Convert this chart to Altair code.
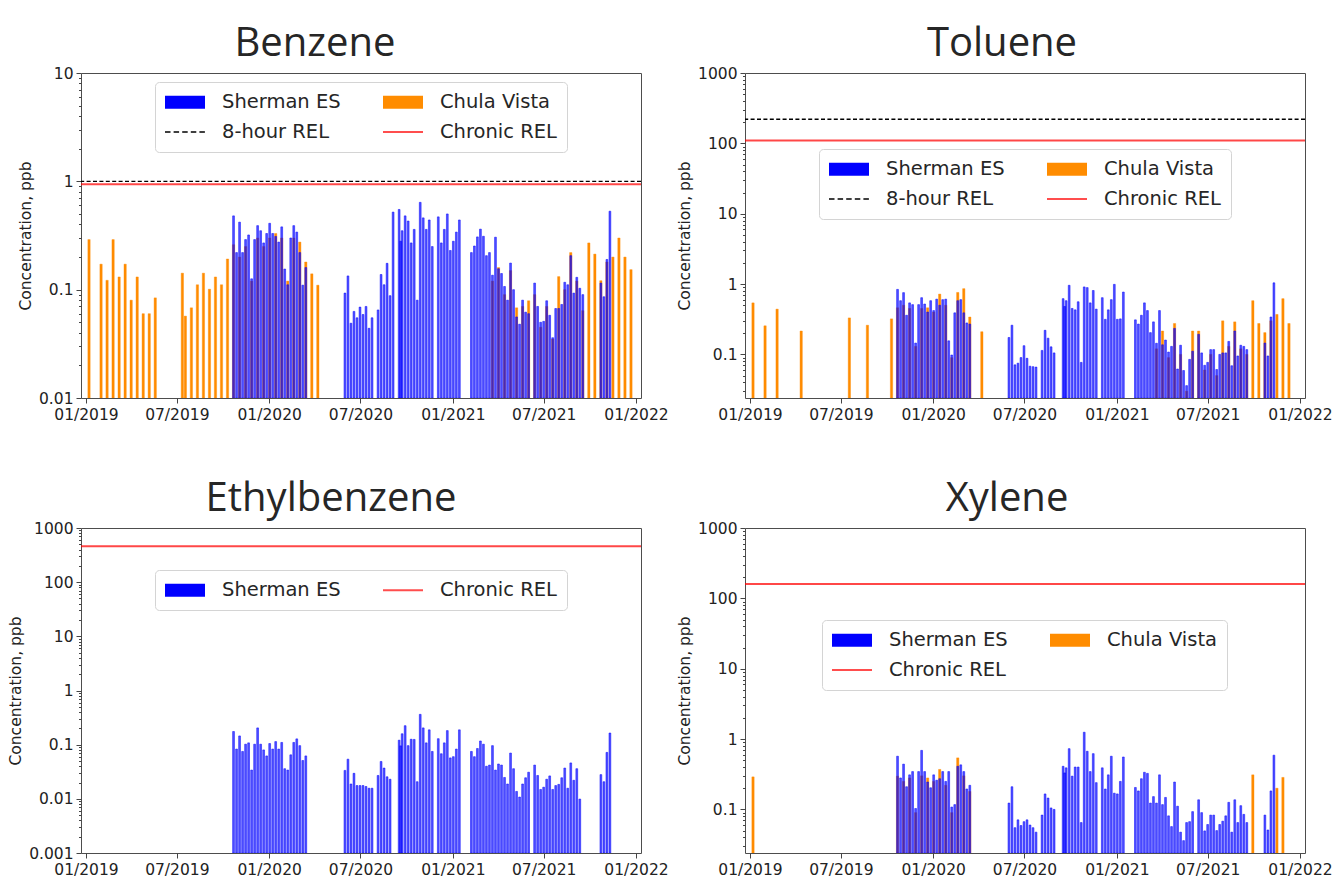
import altair as alt
import pandas as pd

# ---------------- sampling days (days after 2019-01-01) ----------------
BASE_DATE = "2019-01-01"
SHERMAN_DAYS = [
    294, 300, 306, 312, 318, 324, 330, 336, 342, 348, 354, 360, 366, 372, 378, 384, 390, 396, 402, 408, 414, 420, 426, 432, 438,
    516, 522, 528, 534, 540, 546, 552, 558, 564, 570,
    582, 588, 594, 600, 606, 612,
    624, 627, 630, 636, 642, 648, 654, 660, 666, 672, 678, 684, 690,
    702, 708, 714, 720, 726, 732, 738, 744,
    768, 774, 780, 786, 792, 798, 804, 810, 816, 822, 828, 834, 840, 846, 852, 858, 864, 870, 876, 882,
    894, 900, 906, 912, 918, 924, 930, 936, 942, 948, 954, 960, 966, 972, 978, 984, 990,
    1026, 1032, 1038, 1044,
]
CV_DAYS = [
    6, 18, 30, 42, 54, 66, 78, 90, 102, 114, 126, 138,
    192, 198, 210, 222, 234, 246, 258, 270, 282,
    294, 306, 318, 330, 342, 354, 366, 378, 390, 402, 414, 426, 438, 450, 462,
    810, 822, 834, 846, 858, 870, 882, 894, 906, 918, 930, 942, 954, 966, 978, 990,
    1002, 1014, 1026, 1038, 1050, 1062, 1074, 1086,
]

# ---------------- concentrations, ppb ----------------
BENZ_SH = [
    0.48, 0.22, 0.42, 0.22, 0.29, 0.32, 0.126, 0.29, 0.39, 0.35, 0.27, 0.33, 0.41, 0.33, 0.31, 0.275, 0.38, 0.155, 0.111, 0.30, 0.39, 0.34, 0.22, 0.11, 0.16,
    0.093, 0.134, 0.049, 0.063, 0.055, 0.069, 0.059, 0.070, 0.044, 0.055,
    0.065, 0.138, 0.111, 0.175, 0.088, 0.52,
    0.55, 0.28, 0.35, 0.48, 0.43, 0.27, 0.36, 0.08, 0.64, 0.46, 0.36, 0.44, 0.25,
    0.47, 0.27, 0.36, 0.50, 0.23, 0.28, 0.34, 0.44,
    0.22, 0.253, 0.307, 0.362, 0.311, 0.206, 0.22, 0.136, 0.305, 0.156, 0.141, 0.107, 0.080, 0.176, 0.10, 0.056, 0.048, 0.080, 0.062, 0.060,
    0.115, 0.070, 0.050, 0.051, 0.079, 0.058, 0.036, 0.067, 0.067, 0.073, 0.117, 0.111, 0.206, 0.093, 0.13, 0.103, 0.090,
    0.115, 0.086, 0.19, 0.53,
]
BENZ_CV = [
    0.29, None, 0.172, 0.122, 0.29, 0.131, 0.172, 0.08, 0.131, 0.06, 0.06, 0.084,
    0.142, 0.057, 0.068, 0.111, 0.142, 0.101, 0.131, 0.111, 0.192,
    0.26, 0.20, 0.25, 0.12, 0.30, 0.25, 0.30, 0.33, 0.30, 0.12, 0.30, 0.275, 0.18, 0.14, 0.11,
    0.12, 0.16, 0.09, 0.15, 0.068, 0.07, 0.079, 0.09, 0.045, 0.07, 0.035, 0.132, 0.10, 0.22, 0.12, 0.064,
    0.27, 0.213, 0.121, 0.18, 0.20, 0.30, 0.20, 0.153,
]
TOL_SH = [
    0.84, 0.58, 0.755, 0.36, 0.54, 0.51, 0.145, 0.51, 0.64, 0.52, 0.40, 0.58, 0.42, 0.61, 0.50, 0.60, 0.61, 0.156, 0.098, 0.39, 0.58, 0.60, 0.39, 0.28, 0.27,
    0.174, 0.26, 0.071, 0.075, 0.09, 0.133, 0.088, 0.068, 0.067, 0.066,
    0.114, 0.22, 0.17, 0.128, 0.105, None,
    0.62, 0.48, 0.58, 0.96, 0.45, 0.43, 0.56, 0.077, 0.91, 0.89, 0.54, 0.81, 0.44,
    0.64, 0.315, 0.43, 0.60, 0.99, 0.315, 0.32, 0.77,
    0.31, 0.27, 0.36, 0.54, 0.42, 0.204, 0.29, 0.144, 0.42, 0.137, 0.16, 0.108, 0.13, 0.234, 0.062, 0.135, 0.059, 0.036, 0.085, 0.111,
    0.193, 0.105, 0.070, 0.077, 0.117, 0.117, 0.061, 0.10, 0.105, 0.105, 0.153, 0.069, 0.215, 0.095, 0.135, 0.13, 0.117,
    0.145, 0.095, 0.34, 1.04,
]
TOL_CV = [
    0.54, None, 0.255, None, 0.44, None, None, None, 0.215, None, None, None,
    None, 0.33, None, None, 0.26, None, None, None, 0.32,
    0.46, 0.5, 0.45, 0.13, 0.45, 0.46, 0.4, 0.72, 0.5, 0.09, 0.76, 0.86, 0.34, None, 0.21,
    0.12, 0.215, 0.09, 0.275, 0.1, 0.03, 0.215, 0.215, 0.06, 0.1, 0.05, 0.30, 0.13, 0.29, 0.12, 0.1,
    0.58, 0.275, 0.204, 0.3, 0.37, 0.62, 0.275, None,
]
ETH_SH = [
    0.175, 0.083, 0.145, 0.075, 0.102, 0.108, 0.034, 0.102, 0.204, 0.102, 0.08, 0.062, 0.105, 0.083, 0.114, 0.083, 0.11, 0.036, 0.034, 0.065, 0.11, 0.128, 0.096, 0.051, 0.062,
    0.0335, 0.054, 0.0188, 0.0296, 0.0176, 0.0176, 0.0176, 0.0169, 0.0157, 0.0157,
    0.027, 0.049, 0.037, 0.0255, 0.023, None,
    0.121, 0.095, 0.159, 0.224, 0.096, 0.126, 0.125, 0.0207, 0.363, 0.204, 0.108, 0.188, 0.075,
    0.129, 0.068, 0.108, 0.182, 0.057, 0.060, 0.083, 0.188,
    0.075, 0.060, 0.085, 0.117, 0.102, 0.040, 0.042, 0.096, 0.034, 0.044, 0.042, 0.0248, 0.0188, 0.070, 0.036, 0.0137, 0.0108, 0.0188, 0.0245, 0.031,
    0.042, 0.027, 0.0149, 0.0164, 0.023, 0.0265, 0.0149, 0.0176, 0.0185, 0.0245, 0.037, 0.0157, 0.046, 0.022, 0.036, 0.0099, None,
    0.028, 0.0207, 0.072, 0.164,
]
XYL_SH = [
    0.57, 0.28, 0.44, 0.21, 0.31, 0.345, 0.103, 0.345, 0.69, 0.345, 0.245, 0.203, 0.31, 0.26, 0.273, 0.345, 0.25, 0.345, 0.108, 0.117, 0.41, 0.43, 0.345, 0.195, 0.22,
    0.123, 0.21, 0.055, 0.071, 0.059, 0.067, 0.071, 0.060, 0.055, 0.0475,
    0.083, 0.166, 0.145, 0.105, 0.10, None,
    0.41, 0.33, 0.39, 0.73, 0.297, 0.40, 0.40, 0.065, 1.25, 0.67, 0.345, 0.62, 0.24,
    0.39, 0.195, 0.31, 0.57, 0.17, 0.166, 0.25, 0.556,
    0.205, 0.183, 0.273, 0.337, 0.325, 0.123, 0.152, 0.123, 0.31, 0.117, 0.148, 0.081, 0.057, 0.245, 0.111, 0.0475, 0.036, 0.065, 0.067, 0.093,
    0.137, 0.09, 0.0495, 0.061, 0.083, 0.083, 0.050, 0.061, 0.068, 0.081, 0.126, 0.0475, 0.137, 0.065, 0.113, 0.085, 0.065,
    0.083, 0.051, 0.183, 0.59,
]
XYL_CV = [
    0.29, None, None, None, None, None, None, None, None, None, None, None,
    None, None, None, None, None, None, None, None, None,
    0.297, 0.25, 0.28, 0.09, 0.30, 0.28, 0.25, 0.37, 0.22, 0.09, 0.54, 0.3, 0.18, None, None,
    None, None, None, None, None, None, None, None, None, None, None, None, None, None, None, None,
    0.31, None, None, None, 0.20, 0.285, None, None,
]

# reference exposure levels, ppb
REL_8HR = {"Benzene": 1.0, "Toluene": 220}
REL_CHRONIC = {"Benzene": 0.94, "Toluene": 110, "Ethylbenzene": 460, "Xylene": 160}

BLUE = "#0000ff"
ORANGE = "#ff8c00"
RED = "#ff0000"
FONT = "DejaVu Sans"

LEG_COLORS = {"Sherman ES": BLUE, "Chula Vista": ORANGE, "8-hour REL": "#000000", "Chronic REL": "#ff4d4d"}
LEG_SHAPES = {
    "Sherman ES": "M-1,-0.65H3V0.65H-1Z",
    "Chula Vista": "M-1,-0.65H3V0.65H-1Z",
    "Chronic REL": "M-1,-0.1H3V0.1H-1Z",
    "8-hour REL": ("M-1,-0.08H-0.45V0.08H-1Z M-0.14,-0.08H0.41V0.08H-0.14Z "
                   "M0.72,-0.08H1.27V0.08H0.72Z M1.58,-0.08H2.13V0.08H1.58Z M2.44,-0.08H2.99V0.08H2.44Z"),
}

W, H = 560, 325


def to_dates(days):
    base = pd.Timestamp(BASE_DATE)
    return [(base + pd.Timedelta(days=int(d))).strftime("%Y-%m-%dT00:00:00") for d in days]


def frame(days, vals, floor):
    df = pd.DataFrame({"date": to_dates(days), "value": vals})
    df = df.dropna()
    df["base"] = floor  # bars start at the bottom of the log axis
    return df


X_SCALE = alt.Scale(domain=[alt.DateTime(year=2019, month=1, date=1),
                            alt.DateTime(year=2022, month=1, date=1)], nice=False)
X_TICKS = [alt.DateTime(year=y, month=m, date=1)
           for y, m in [(2019, 1), (2019, 7), (2020, 1), (2020, 7), (2021, 1), (2021, 7), (2022, 1)]]
X_AXIS = alt.Axis(values=X_TICKS, format="%m/%Y", title=None, labelFontSize=15.5, tickSize=5,
                  labelPadding=4, grid=False, domain=False, labelOverlap=False, labelFont=FONT)


def panel(name, sh, cv, ymin, ymax, majors, entries, lx, ly, tdx):
    yscale = alt.Scale(type="log", domain=[ymin, ymax], nice=False)
    minors = []
    d = 1e-4
    while d < 1e4:
        for k in range(2, 10):
            v = d * k
            if ymin < v < ymax:
                minors.append(v)
        d *= 10
    y_major = alt.Axis(values=majors, format="~g", title="Concentration, ppb", titleFontSize=15.5,
                       titleFontWeight="normal", titleFont=FONT, labelFont=FONT, labelFontSize=15.5,
                       tickSize=5, labelPadding=3, titlePadding=5, grid=False, domain=False, orient="left")
    y_minor = alt.Axis(values=minors, labels=False, tickSize=2.5, grid=False, domain=False,
                       title=None, orient="left")

    layers = []
    if cv is not None:
        layers.append(
            alt.Chart(frame(CV_DAYS, cv, ymin)).mark_bar(orient="vertical", size=2.3, color=ORANGE,
                                                         stroke=ORANGE, strokeWidth=0.4, clip=True)
            .encode(x=alt.X("date:T", scale=X_SCALE, axis=X_AXIS),
                    y=alt.Y("value:Q", scale=yscale, axis=None),
                    y2=alt.Y2("base:Q"))
        )
    layers.append(
        alt.Chart(frame(SHERMAN_DAYS, sh, ymin)).mark_bar(orient="vertical", size=1.8, fill=BLUE,
                                                          fillOpacity=0.68, stroke=BLUE, strokeWidth=0.5,
                                                          clip=True)
        .encode(x=alt.X("date:T", scale=X_SCALE, axis=X_AXIS),
                y=alt.Y("value:Q", scale=yscale, axis=y_major),
                y2=alt.Y2("base:Q"))
    )
    if name in REL_8HR:
        layers.append(
            alt.Chart(pd.DataFrame({"value": [REL_8HR[name]]})).mark_rule(
                color="#000000", strokeWidth=1.3, strokeDash=[4, 2.4])
            .encode(y=alt.Y("value:Q", scale=yscale, axis=None))
        )
    layers.append(
        alt.Chart(pd.DataFrame({"value": [REL_CHRONIC[name]]})).mark_rule(
            color=RED, strokeWidth=2, opacity=0.72)
        .encode(y=alt.Y("value:Q", scale=yscale, axis=None))
    )
    leg = alt.Legend(orient="none", legendX=lx, legendY=ly, columns=2, direction="horizontal", title=None,
                     labelFont=FONT, labelFontSize=19.5, labelColor="#262626",
                     symbolSize=400, symbolStrokeWidth=0, symbolOpacity=1, labelOffset=37,
                     columnPadding=42, rowPadding=10, padding=10, fillColor="white",
                     strokeColor="#d4d4d4", cornerRadius=4, labelLimit=300)
    leg_df = pd.DataFrame({"date": to_dates([0]) * len(entries),
                           "value": [ymin * 1e-4] * len(entries),
                           "series": entries})
    layers.append(
        alt.Chart(leg_df).mark_point(filled=True, opacity=1, clip=True)
        .encode(x=alt.X("date:T", scale=X_SCALE, axis=X_AXIS),
                y=alt.Y("value:Q", scale=yscale, axis=y_minor),
                color=alt.Color("series:N", scale=alt.Scale(domain=entries,
                                range=[LEG_COLORS[e] for e in entries]), legend=leg),
                shape=alt.Shape("series:N", scale=alt.Scale(domain=entries,
                                range=[LEG_SHAPES[e] for e in entries]), legend=leg))
    )
    return alt.layer(*layers).resolve_axis(y="independent").properties(
        width=W, height=H,
        title=alt.TitleParams(text=name, font="Open Sans", fontSize=40, fontWeight="normal",
                              color="#262626", anchor="middle", frame="group", dx=tdx, offset=2),
    )


p1 = panel("Benzene", BENZ_SH, BENZ_CV, 0.01, 10, [0.01, 0.1, 1, 10],
           ["Sherman ES", "Chula Vista", "8-hour REL", "Chronic REL"], 74, 9, -46)
p2 = panel("Toluene", TOL_SH, TOL_CV, 0.024, 1000, [0.1, 1, 10, 100, 1000],
           ["Sherman ES", "Chula Vista", "8-hour REL", "Chronic REL"], 74, 76, -23)
p3 = panel("Ethylbenzene", ETH_SH, None, 0.001, 1000, [0.001, 0.01, 0.1, 1, 10, 100, 1000],
           ["Sherman ES", "Chronic REL"], 74, 42, -30)
p4 = panel("Xylene", XYL_SH, XYL_CV, 0.024, 1000, [0.1, 1, 10, 100, 1000],
           ["Sherman ES", "Chula Vista", "Chronic REL"], 77, 92, -18)

chart = alt.concat(p1, p2, p3, p4, columns=2, spacing={"row": 130, "column": 104}, bounds="flush") \
    .resolve_scale(x="independent", y="independent", color="independent", shape="independent") \
    .resolve_legend(color="independent", shape="independent") \
    .properties(padding={"left": 0, "top": 15, "right": 0, "bottom": 0}) \
    .configure_view(stroke="#4d4d4d", strokeWidth=1) \
    .configure_axis(labelColor="#222222", titleColor="#222222", tickColor="#444444")

chart.save("out.html", embed_options={"renderer": "svg", "actions": False})
